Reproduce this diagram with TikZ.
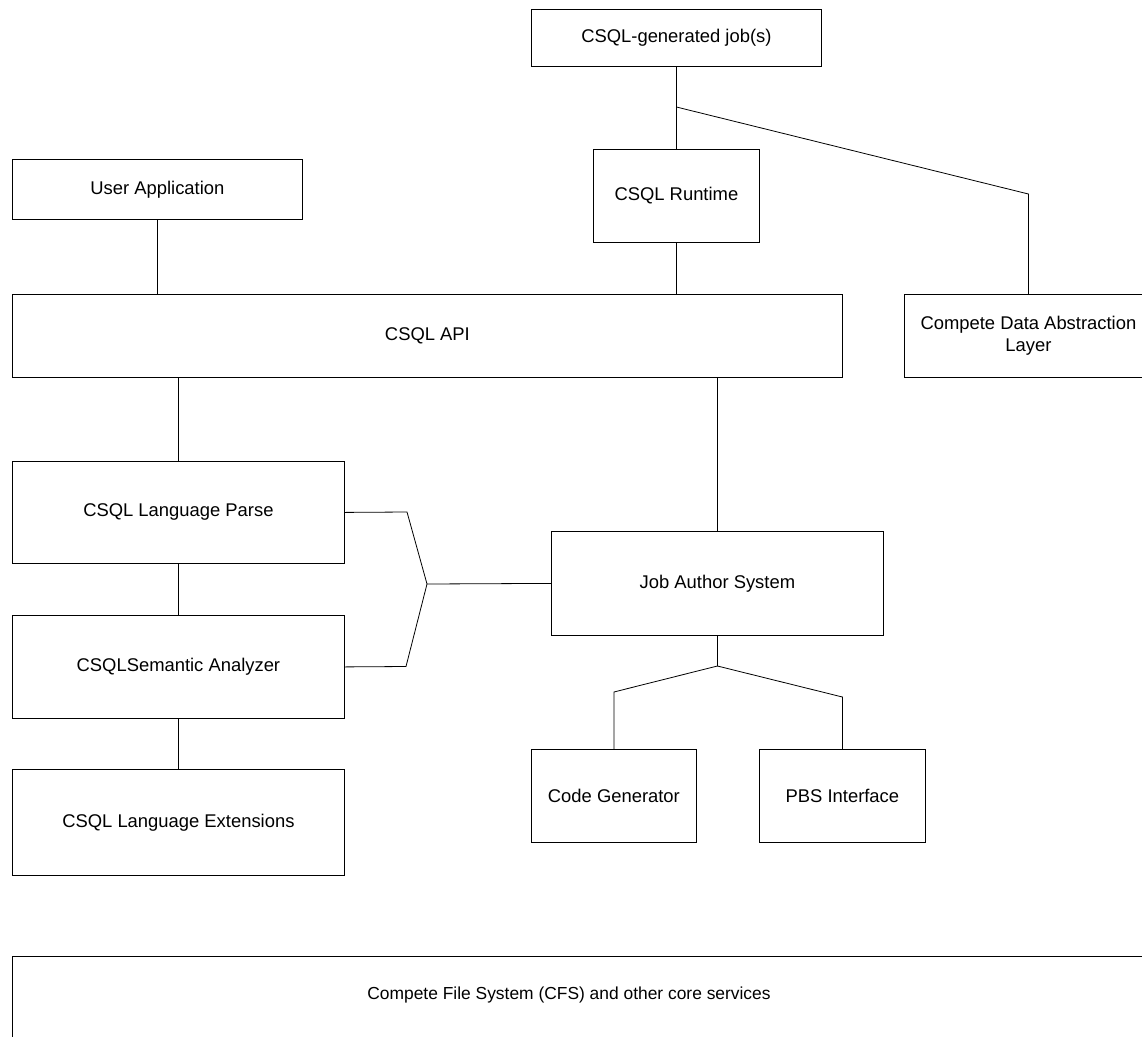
\documentclass[tikz,border=0pt]{standalone}
\usepackage{fontspec}
\setmainfont{Liberation Sans}
\begin{document}
\begin{tikzpicture}[x=1pt,y=-1pt,
  box/.style={draw=black, line width=0.8pt, inner sep=0pt, anchor=north west, align=center,
    font=\fontsize{18.4}{22}\selectfont},
  conn/.style={draw=black, line width=0.8pt}]
\useasboundingbox (0,0) rectangle (1142,1036);
\clip (0,0) rectangle (1142,1036);
\node[box, minimum width=290pt, minimum height=57pt] (jobs) at (531,9) {CSQL-generated job(s)};
\node[box, minimum width=166pt, minimum height=93pt] (runtime) at (593,149) {CSQL Runtime};
\node[box, minimum width=290pt, minimum height=60pt] (user) at (12,159) {User Application};
\node[box, minimum width=830pt, minimum height=83pt] (api) at (12,294) {CSQL API};
\node[box, minimum width=248pt, minimum height=83pt] (cdal) at (904,294) {Compete Data Abstraction\\Layer};
\node[box, minimum width=332pt, minimum height=102pt] (parse) at (12,461) {CSQL Language Parse};
\node[box, minimum width=332pt, minimum height=103pt] (sem) at (12,615) {CSQLSemantic Analyzer};
\node[box, minimum width=332pt, minimum height=106pt] (ext) at (12,769) {CSQL Language Extensions};
\node[box, minimum width=332pt, minimum height=104pt] (jas) at (551,531) {Job Author System};
\node[box, minimum width=165pt, minimum height=93pt] (codegen) at (531,749) {Code Generator};
\node[box, minimum width=166pt, minimum height=93pt] (pbs) at (759,749) {PBS Interface};
\node[box, minimum width=1160pt, minimum height=90pt] (cfs) at (12,956) {};
\node[font=\fontsize{17.4}{21}\selectfont, inner sep=0pt] (cfstext) at (569,995) {Compete File System (CFS) and other core services};
% connectors
\coordinate (jb) at (jobs.south |- 0,107);
\draw[conn] (jobs.south) -- (runtime.north);
\draw[conn] (jb) -- (cdal.north |- 0,194) -- (cdal.north);
\draw[conn] (runtime.south) -- (runtime.south |- api.north);
\draw[conn] (user.south) -- (user.south |- api.north);
\draw[conn] (parse.north |- api.south) -- (parse.north);
\draw[conn] (parse.south) -- (sem.north);
\draw[conn] (sem.south) -- (ext.north);
\draw[conn] (jas.north |- api.south) -- (jas.north);
\coordinate (fk) at (427,584);
\draw[conn] (parse.east) -- (407,512) -- (fk) -- (jas.west);
\draw[conn] (sem.east) -- (406,666.5) -- (fk);
\coordinate (js) at (jas.south |- 0,666);
\draw[conn] (jas.south) -- (js) -- (codegen.north |- 0,692) -- (codegen.north);
\draw[conn] (js) -- (pbs.north |- 0,697) -- (pbs.north);
\end{tikzpicture}
\end{document}
